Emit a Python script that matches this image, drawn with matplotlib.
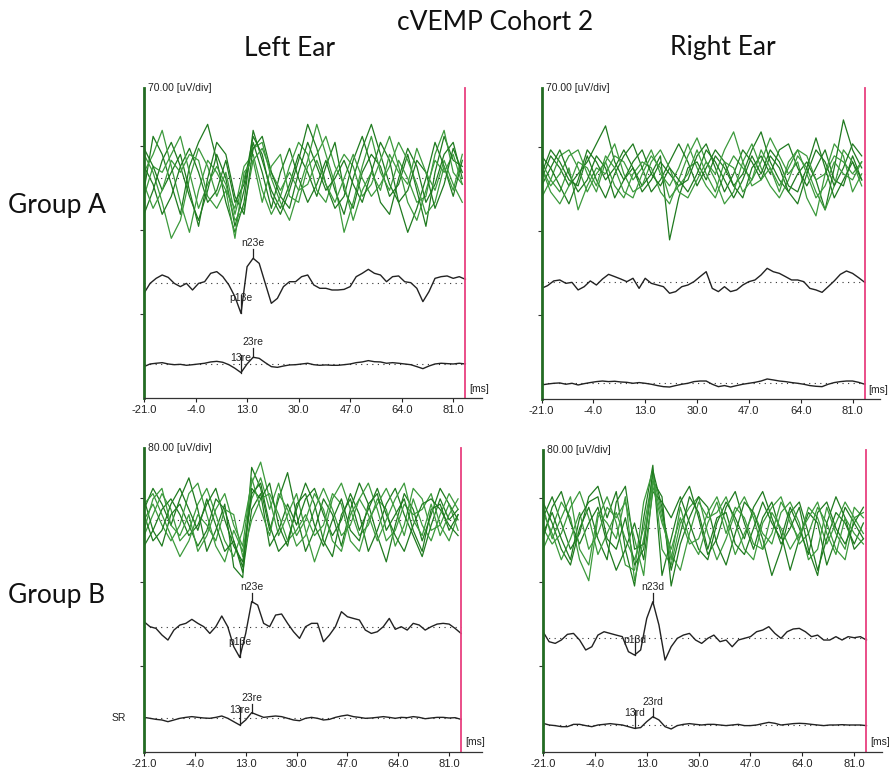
import numpy as np
import matplotlib.pyplot as plt

plt.rcParams['font.family'] = ['Liberation Sans', 'DejaVu Sans']

#%% data (uV, positive = up)

# sample times in ms
t_avg = np.arange(-21, 86, 2)   # averaged / rectified traces
t_raw = np.arange(-21, 85, 3)   # single sweeps (green)

x_ticks = [-21.0, -4.0, 13.0, 30.0, 47.0, 64.0, 81.0]
x_ticklabels = ['-21.0', '-4.0', '13.0', '30.0', '47.0', '64.0', '81.0']
scales = [70.0, 70.0, 80.0, 80.0]          # uV/div
scale_labels = ['70.00 [uV/div]', '70.00 [uV/div]', '80.00 [uV/div]', '80.00 [uV/div]']
col_titles = ['Left Ear', 'Right Ear']
row_titles = ['Group A', 'Group B']

# Group A, left ear
a_left_green = [
    [-10, 35, 20, -5, -30, 10, 30, 45, 15, -20, -45, -20, 40, 15, -10, -25, -5, 20, 5, -15, 10, 30, -10, -25, 5, 20, 10, -15, -5, 20, -10, -40, 5, 35, 15, 10],
    [20, 5, -20, -50, -35, 0, 25, 10, -15, 5, -30, 0, 25, 30, 0, -20, -35, -10, 15, 45, 20, -5, -45, -20, 10, 35, 5, -10, 15, 0, -20, -15, 20, 40, 5, -5],
    [-30, -10, 15, 30, 10, -15, -35, -10, 20, 0, -40, -10, 30, 5, -25, 5, 25, 0, -20, -5, 15, -10, -30, 0, 25, 45, 20, -5, -20, -45, -25, 0, 30, 10, -15, 15],
    [5, 20, 40, 10, -20, -45, -10, 15, 5, -10, -25, 10, 20, -10, -30, -15, 10, 30, 20, -10, -20, 5, 20, 10, -15, -5, 15, 35, 10, -20, -35, -10, 15, 5, 20, -5],
    [10, -5, -30, -15, 10, 25, 5, -20, -10, 15, -20, -5, 35, 20, -15, -30, -10, 15, 45, 25, -5, -25, -15, 15, 35, 10, -20, -30, 0, 25, 10, -20, -5, 20, 30, 0],
    [-15, 10, 5, 20, 35, 5, -25, -5, 10, -5, -35, -25, 15, 25, 5, -10, 5, -10, -5, 15, -5, -20, 0, 20, 0, -15, -5, 10, 30, 15, -5, -30, -20, 10, -10, 20],
    [25, 10, -10, 5, 20, -10, -40, 0, 30, 20, -15, -30, 25, 35, 5, -15, -25, 5, 30, 10, -10, 0, 15, -5, -20, 5, 30, 15, -20, -10, 15, 5, -25, -5, 25, 5],
    [-5, -25, -10, 15, 5, 20, 15, -15, -25, -10, -50, 5, 15, -20, 10, 20, -15, -20, 10, 20, 35, 10, -5, -35, -10, 5, -10, 20, 5, -5, 25, 5, -10, 15, -5, -20],
]
a_left_avg = [-8.9, -0.6, 3.6, 6.4, 4.4, -0.6, -3.3, -0.6, -6.1, -0.6, 0.8, 7.8, 9.2, 5.0, -1.9, -11.7, -25.6, 13.3, 20.3, 16.1,
              -0.6, -17.2, -13.1, -3.3, 0.8, 0.8, 5.0, 6.4, -1.9, -4.7, -4.7, -6.1, -6.1, -5.6, -3.3, 5.0, 7.8, 11.1, 7.8, 6.4,
              0.8, 5.0, 5.6, 0.8, 0.0, -4.7, -15.8, -7.5, 3.6, 5.0, 5.6, 3.6, 5.0, 2.8]
a_left_rect = [-2.2, 0, 0.6, 1.1, 0, -0.6, -0.3, -1.1, -0.6, 0, 0.6, 1.7, 2.2, 1.4, -0.6, -3.6, -7.2, 0, 5.6, 4.7,
               1.1, -2.2, -2.8, -1.7, -0.8, -0.6, 0, 0.6, -0.6, -1.1, -0.8, -1.1, -1.1, -0.6, 0, 1.1, 1.7, 2.8, 1.9, 1.7,
               0.6, 1.1, 0.6, 0, -0.6, -2.2, -3.9, -1.7, 0, 0.6, 0.3, 0, 0.6, 0]

# Group A, right ear
a_right_green = [
    [-5, 15, 5, -10, 0, 10, 25, 40, 10, -5, 5, -10, 0, 15, -55, -20, 5, 10, -5, 15, 5, -10, 0, 20, 35, 10, -5, -15, 0, 10, -5, -30, 5, 45, 20, 5],
    [10, -5, -15, 5, -30, -10, 5, 0, 15, 10, -5, 5, 20, 0, -10, 5, 25, 5, -10, -20, 0, 15, 5, -5, 10, 30, 15, 0, 10, -20, -35, 0, 15, 10, 0, 10],
    [0, 20, 10, -5, -10, 15, -5, -20, 0, 15, 25, 5, -15, -5, 10, 25, 10, -10, 5, 20, 10, -10, -20, 5, 15, 0, 20, 25, 5, -10, 5, 20, -5, -10, 15, -5],
    [-20, -5, 15, 20, 5, -15, 0, 10, -10, -20, 0, 10, 5, -15, -25, -5, 15, 30, 10, -5, -25, -15, 10, 25, 5, -10, -20, -5, 15, 5, -15, -30, -10, 20, 10, -10],
    [15, 5, -10, -25, -5, 20, 10, -5, 5, 20, 5, -15, -5, 10, 0, -10, -5, 15, 25, 5, -15, 0, 20, 10, -5, 15, 5, -15, -25, 0, 20, 10, -10, 5, 25, 15],
    [5, -10, 0, 15, 20, 0, -15, 10, 25, 0, -15, -10, 10, 20, 5, -15, -20, -5, 10, 0, 20, 35, 10, -10, -5, 5, -10, 5, 20, 15, -5, 0, 25, 15, -15, 0],
    [-10, 5, 20, 0, -15, -5, 15, 5, -20, -5, 10, 20, 0, -10, 5, -5, -15, 0, 20, 10, -5, -20, -5, 15, 0, 20, 10, -10, -15, 5, 30, 5, -20, -5, 10, -5],
    [5, -15, -25, -10, 10, 5, -10, 15, 5, -15, -20, 0, 15, 5, -20, -10, 0, 20, 0, -15, 10, 5, -15, -5, 20, 5, -15, 10, 20, 0, -20, -10, 10, 0, -5, 10],
]
a_right_avg = [-5.6, -3.3, 0.6, 1.4, -1.4, -0.6, -6.9, -4.2, 0.6, -2.8, 2.2, 6.1, 4.2, 2.2, 0, 2.8, -5.6, 2.8, -1.4, -2.8,
               -4.2, -9.7, -8.3, -4.2, -2.8, 0, 4.2, 8.3, -5.6, -8.3, -4.2, -8.3, -6.9, -2.8, 0, 1.4, 5.6, 11.1, 8.3, 6.9,
               4.2, 1.4, 1.4, 0, -5.6, -6.9, -8.9, -4.2, 0.6, 6.1, 8.9, 6.9, 3.3, -0.6]
a_right_rect = [-1.4, -0.6, 0, 0.3, -0.8, 0, -1.4, -0.3, 0.6, 1.4, 1.9, 1.4, 1.7, 1.1, 0.8, 0, 0.6, 0, -0.8, -1.9,
                -2.8, -3.1, -1.9, -0.8, 0, 1.4, 1.9, 1.9, -0.8, -2.8, -1.9, -3.1, -1.9, -0.8, 0, 0.8, 1.9, 3.6, 2.8, 1.9,
                1.4, 0.6, 0, -0.8, -1.9, -2.5, -2.8, -0.8, 0.6, 1.4, 1.9, 1.9, 0.8, -0.8]

# Group B, left ear
b_left_green = [
    [10, 30, 15, -5, 20, 40, 10, -30, -10, 15, -45, -55, 50, 30, -10, 20, 45, 5, -30, -10, 20, 5, -25, 10, 35, 15, -15, -40, -5, 25, 10, -20, 5, 30, 15, 0],
    [-15, 5, 25, 10, -20, -10, 15, 30, 5, -20, -35, -10, 35, 55, 20, -15, 5, 25, -10, -40, -15, 20, 35, 10, -15, -5, 20, 10, -25, -5, 30, 20, -10, -5, 15, -10],
    [20, -10, -25, 5, 15, -5, -25, -10, 20, 10, -20, -50, 10, 25, -25, -10, 15, -5, 20, 30, 5, -15, 0, 25, 5, -30, -10, 15, 30, 5, -15, -35, -5, 20, 0, 10],
    [0, 15, -5, -20, -5, 25, 35, 5, -25, -40, -10, -30, 20, 40, 10, 35, 0, -25, -15, 10, 30, 10, -15, -5, 20, 35, 10, -20, -10, 15, 5, 10, 25, -5, -20, 5],
    [-25, -10, 10, 20, 5, -15, -5, 15, 30, 0, -25, -40, 25, 35, -5, -30, -20, 10, 35, 15, -20, -35, 5, 20, -10, 10, 30, 5, -15, -30, -5, 15, 20, 10, -5, -15],
    [15, 25, 5, -15, -35, -20, 5, -5, -20, 10, 5, -35, 0, 20, 25, 5, -20, -10, 5, -15, -5, 25, 15, -20, -30, 0, 15, 30, 10, -15, 20, -5, -20, 5, 25, 10],
    [5, -20, -10, 15, 30, 10, -10, 20, -5, -30, -20, -45, 30, 20, 35, -5, -25, 15, 25, -5, -25, 0, 20, -10, -20, 15, 25, -10, 5, 20, -10, -30, 10, 15, -10, 5],
    [-10, 20, 30, -5, -15, 5, -30, -15, 10, 25, -5, -25, 40, 10, -15, 25, 10, -15, 0, 25, 10, -20, -30, 5, 20, 5, -20, 0, 20, 35, 0, -15, 15, -15, 5, 20],
]
b_left_avg = [4.8, 0, -1.6, -7.9, -12.7, -3.2, 1.6, 3.2, 7.0, 3.2, 0, -6.4, 0, 10.2, 0, -19.0, -29.2, -6.4, 24.0, 20.6,
              3.2, 0, 11.1, 12.1, 3.2, -4.8, -11.1, 0, 3.2, 3.2, -14.3, -7.9, 0, 14.3, 9.5, 7.9, 6.4, -3.2, -6.4, -4.8,
              0, 7.9, -2.5, 0, -3.2, 3.2, 1.6, -3.2, 0, 2.5, 3.2, 2.5, -1.6, -6.4]
b_left_rect = [0.3, -0.6, -1.6, -2.2, -3.8, -2.2, -0.6, 0.3, 1.0, 0.3, -0.3, -0.6, 0.3, 1.6, -0.6, -3.8, -7.0, -2.2, 4.8, 2.5,
               0.3, 1.0, 1.6, 1.0, -0.6, -2.2, -2.9, -0.6, 0.3, -0.6, -2.2, -1.6, 0.3, 1.6, 2.5, 1.0, 0.3, -0.6, -0.3, 0.3,
               1.0, 0.3, -0.6, 0.3, 0, 1.0, 0.3, -1.0, -0.3, 0.3, 0.3, -0.3, 0, -1.6]

# Group B, right ear
b_right_green = [
    [10, 30, 5, -20, -5, 30, 40, 10, 35, -20, -55, 10, 60, -45, -10, 25, 40, 10, -25, -10, 20, 35, 5, -20, 10, 25, -5, -40, -10, 15, 5, -35, -10, 20, 5, -10],
    [-20, 0, 25, 10, -30, -50, 10, 30, 5, -35, -40, 25, 55, -20, -35, 5, 20, 30, -5, -30, -10, 15, 30, 10, -20, -5, 25, 10, -15, -5, 20, 5, -20, -30, 10, 15],
    [25, 5, -20, -35, 0, 20, -10, -30, 25, 40, -20, -15, 45, 30, -55, -15, 10, 30, 20, -15, -35, -5, 25, 15, -10, -45, -20, 15, 25, -5, -40, -10, 15, 5, -15, 5],
    [0, -15, -5, 20, 35, 10, -25, -5, 15, -10, -30, 0, 50, 15, -25, -40, -5, 25, 10, 15, 30, 5, -20, -30, 5, 20, 30, 5, -10, 20, 10, -15, 5, 25, 10, -5],
    [-10, 20, 35, 5, -15, 5, 20, -15, -40, -20, 5, -30, 35, 25, 10, 30, 5, -20, -30, 5, 25, 10, -10, 20, 35, 10, -15, 0, 20, -20, -45, 5, 30, 10, -20, -10],
    [15, -5, -30, -10, 15, -20, -5, 20, 10, 25, -10, -45, 40, 5, -20, 10, -15, -10, 15, 30, 5, -25, -5, 15, -5, -15, 15, 25, 5, -30, -20, 20, -5, -20, 20, 10],
    [-5, 15, -10, -30, 10, 25, 30, -10, -20, 10, -35, -20, 55, 20, -40, -5, 30, 15, -20, 10, 15, -15, -25, 0, 25, 5, -10, 20, 0, -25, 15, 25, 0, -15, 5, 20],
    [20, -10, 10, 30, -20, -35, 15, 5, -10, 30, -50, -10, 45, 10, -30, 20, -10, -25, 5, 25, -5, 20, 10, -15, -20, 15, 0, -20, -5, 10, 25, -5, -25, 10, -5, -15],
]
b_right_avg = [5.7, -3.8, -5.4, -2.2, 3.2, 4.1, -2.2, -11.7, -8.6, 2.5, 5.7, 4.1, 2.5, 1.0, -13.3, -16.5, -11.7, 18.4, 34.3, 12.1,
               -21.3, -8.6, -0.6, 2.5, 4.1, -2.2, -5.4, -0.6, 2.5, -3.8, -2.2, -8.6, -2.2, -0.6, 1.0, 5.7, 7.3, 10.5, 4.1, -0.6,
               5.7, 8.3, 8.9, 5.7, 1.0, 2.5, -2.2, -2.2, 1.0, -2.2, 1.0, 0, 1.0, -2.2]
b_right_rect = [1.6, 0, -0.6, -1.6, -1.6, 0.6, 0.6, -0.6, -1.6, 0, 0.6, 1.3, 0.6, 0, -1.6, -3.2, -2.5, 3.2, 7.9, 4.8,
                -1.6, -3.8, -0.6, 0.6, 1.3, 0.6, 0, 0.6, 0.6, 0, -0.6, 0, 0.6, -0.6, -0.6, 0, 1.3, 2.5, 1.6, 0,
                0.6, 1.3, 1.6, 1.3, 0.6, 0, -0.6, 0, 0, 0.3, 0, 0, 0, -0.6]

# peak labels: (text, time ms, 'peak' or 'trough')
a_left_avg_marks = [('n23e', 15, 'peak'), ('p13e', 11, 'trough')]
a_left_rect_marks = [('23re', 15, 'peak'), ('13re', 11, 'trough')]
b_left_avg_marks = [('n23e', 15, 'peak'), ('p13e', 11, 'trough')]
b_left_rect_marks = [('23re', 15, 'peak'), ('13re', 11, 'trough')]
b_right_avg_marks = [('n23d', 15, 'peak'), ('p13d', 9, 'trough')]
b_right_rect_marks = [('23rd', 15, 'peak'), ('13rd', 9, 'trough')]

#%% drawing

W, H = 889, 775
DIV = 84.0        # pixels per division
T_END = 85.0      # end of sweep (pink marker)

fig = plt.figure(figsize=(W / 100, H / 100), dpi=100)


def make_axes(left, bottom_px, right, top_px, y0):
    ax = fig.add_axes([left / W, 1 - bottom_px / H, (right - left) / W, (bottom_px - top_px) / H])
    ax.set_ylim(y0, y0 + (bottom_px - top_px) / DIV)
    return ax


def draw_marks(ax, t, y, marks):
    for txt, tm, kind in marks:
        yy = np.interp(tm, t, y)
        tick = 9 if kind == 'peak' else 18
        ax.plot([tm, tm], [yy, yy + tick / DIV], color='#222222', lw=0.9)
        ax.text(tm, yy + 15 / DIV, txt, ha='center', va='center', fontsize=7.5, color='#222222')


def draw_panel(ax, xmax, green, avg, rect, scale, bases, avg_marks, rect_marks, scale_label):
    g_base, a_base, r_base = bases
    ax.set_xlim(-21, xmax)
    for b in bases:
        ax.plot([-21, T_END], [b, b], color='#333333', lw=0.8, ls=(0, (1, 4)))
    shades = ['#1f7a1f', '#3c9a3c']
    for i, g in enumerate(green):
        ax.plot(t_raw, g_base + np.array(g) / scale, color=shades[i % 2], lw=0.9)
    ya = a_base + np.array(avg) / scale
    yr = r_base + np.array(rect) / scale
    ax.plot(t_avg, ya, color='#222222', lw=1.0)
    ax.plot(t_avg, yr, color='#222222', lw=1.0)
    draw_marks(ax, t_avg, ya, avg_marks)
    draw_marks(ax, t_avg, yr, rect_marks)

    y0, y1 = ax.get_ylim()
    ax.plot([T_END, T_END], [y0, y1], color='#e8407f', lw=1.3, clip_on=False)

    for s in ['top', 'right']:
        ax.spines[s].set_visible(False)
    ax.spines['left'].set_color('#236b23')
    ax.spines['left'].set_linewidth(2.0)
    ax.spines['bottom'].set_color('#333333')
    ax.spines['bottom'].set_linewidth(0.9)
    ax.set_xticks(x_ticks)
    ax.set_xticklabels(x_ticklabels)
    ax.set_yticks([1, 2, 3])
    ax.set_yticklabels([])
    ax.tick_params(axis='x', length=3, labelsize=8, colors='#222222', pad=2)
    ax.tick_params(axis='y', length=3, colors='#333333')
    ax.text(0.012, 1.0, scale_label, transform=ax.transAxes, fontsize=7.5,
            ha='left', va='center', color='#222222')
    ax.text(T_END + 1.3, y0 + 0.11, '[ms]', fontsize=7.5, ha='left', va='center',
            color='#222222', clip_on=False)
    return ax


ax_tl = make_axes(144, 398, 482, 88, 0.0)
draw_panel(ax_tl, 90.5, a_left_green, a_left_avg, a_left_rect, scales[0],
           (2.615, 1.373, 0.405), a_left_avg_marks, a_left_rect_marks, scale_labels[0])

ax_tr = make_axes(541.5, 399, 880, 88, 0.0)
draw_panel(ax_tr, 90.0, a_right_green, a_right_avg, a_right_rect, scales[1],
           (2.68, 1.397, 0.187), [], [], scale_labels[1])

ax_bl = make_axes(144, 751.7, 482, 448.3, -0.02)
draw_panel(ax_bl, 92.0, b_left_green, b_left_avg, b_left_rect, scales[2],
           (2.74, 1.468, 0.385), b_left_avg_marks, b_left_rect_marks, scale_labels[2])
ax_bl.text(-29.5, 0.385, 'SR', fontsize=7.5, ha='center', va='center', color='#222222', clip_on=False)

ax_br = make_axes(543, 751.7, 882, 450, -0.02)
draw_panel(ax_br, 90.1, b_right_green, b_right_avg, b_right_rect, scales[3],
           (2.64, 1.337, 0.298), b_right_avg_marks, b_right_rect_marks, scale_labels[3])

# headings
big = dict(family=['Lato', 'DejaVu Sans'], fontsize=19, color='#111111', ha='center', va='center')
fig.text(495 / W, 1 - 22 / H, 'cVEMP Cohort 2', **big)
fig.text(290 / W, 1 - 48 / H, col_titles[0], **big)
fig.text(723 / W, 1 - 48 / H, col_titles[1], **big)
fig.text(57 / W, 1 - 206 / H, row_titles[0], **big)
fig.text(57 / W, 1 - 596 / H, row_titles[1], **big)

fig.savefig('out.png', dpi=100)
